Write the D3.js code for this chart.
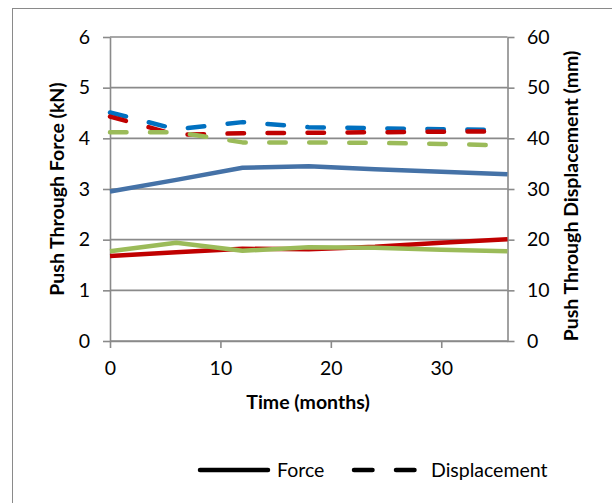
<!DOCTYPE html>
<html><head><meta charset="utf-8">
<script src="https://cdn.jsdelivr.net/npm/d3@7"></script>
<style>
html,body{margin:0;padding:0;background:#fff;}
svg{display:block;font-family:Lato,"Open Sans",sans-serif;}
</style></head>
<body>
<svg id="chart" width="612" height="503"></svg>
<script>
const months = [0, 6, 12, 18, 24, 30, 36];
const forceBlue  = [2.95, 3.18, 3.42, 3.45, 3.39, 3.34, 3.29];
const forceRed   = [1.68, 1.75, 1.82, 1.81, 1.86, 1.94, 2.01];
const forceGreen = [1.77, 1.94, 1.78, 1.85, 1.84, 1.80, 1.77];
const dispBlue   = [45.1, 41.8, 43.2, 42.2, 42.0, 41.8, 41.6];
const dispRed    = [44.3, 40.7, 41.0, 41.1, 41.2, 41.3, 41.4];
const dispGreen  = [41.2, 41.2, 39.2, 39.2, 39.1, 38.9, 38.6];
const leftTicks = [0, 1, 2, 3, 4, 5, 6];
const rightTicks = [0, 10, 20, 30, 40, 50, 60];
const xTicks = [0, 10, 20, 30];
const legendLabels = ["Force", "Displacement"];

const FS = "19.5px";
const svg = d3.select("#chart");
const L = 110, R = 507.5, T = 37, B = 341;
const x = d3.scaleLinear().domain([0, 36]).range([L, R]);
const yL = d3.scaleLinear().domain([0, 6]).range([B, T]);
const yR = d3.scaleLinear().domain([0, 60]).range([B, T]);
const grid = "#8a8a8a";

// outer border
svg.append("rect").attr("x", 12.5).attr("y", 8.5).attr("width", 700).attr("height", 600)
  .attr("fill", "none").attr("stroke", "#8a8a8a").attr("stroke-width", 1);

// gridlines
svg.append("g").selectAll("line").data(leftTicks).join("line")
  .attr("x1", L).attr("x2", R).attr("y1", d => yL(d)).attr("y2", d => yL(d))
  .attr("stroke", grid).attr("stroke-width", 1.6);

function styleAxis(g) {
  g.select(".domain").attr("stroke", grid).attr("stroke-width", 1.6);
  g.selectAll(".tick line").attr("stroke", grid).attr("stroke-width", 1.6);
  g.selectAll(".tick text").attr("fill", "#000").attr("font-size", FS)
    .attr("font-family", "Lato, 'Open Sans', sans-serif");
}
svg.append("g").attr("transform", `translate(${L},0)`)
  .call(d3.axisLeft(yL).tickValues(leftTicks).tickSize(7).tickSizeOuter(0).tickPadding(13).tickFormat(d3.format("d")))
  .call(styleAxis);
svg.append("g").attr("transform", `translate(${R},0)`)
  .call(d3.axisRight(yR).tickValues(rightTicks).tickSize(7).tickSizeOuter(0).tickPadding(12.5).tickFormat(d3.format("d")))
  .call(styleAxis);
svg.append("g").attr("transform", `translate(0,${B})`)
  .call(d3.axisBottom(x).tickValues(xTicks).tickSize(7).tickSizeOuter(0).tickPadding(13).tickFormat(d3.format("d")))
  .call(styleAxis);

const series = [
  {v: dispBlue,  s: yR, c: "#0070C0", dashed: true},
  {v: dispRed,   s: yR, c: "#C00000", dashed: true},
  {v: dispGreen, s: yR, c: "#9BBB59", dashed: true},
  {v: forceBlue,  s: yL, c: "#4572A7", dashed: false},
  {v: forceRed,   s: yL, c: "#C00000", dashed: false},
  {v: forceGreen, s: yL, c: "#9BBB59", dashed: false}
];
const DASH = 16.5, GAP = 23.5;
series.forEach(sr => {
  const line = d3.line().x((d, i) => x(months[i])).y(d => sr.s(d));
  const p = svg.append("path").datum(sr.v).attr("d", line)
    .attr("fill", "none").attr("stroke", sr.c).attr("stroke-width", 4.5)
    .attr("stroke-linecap", sr.dashed ? "round" : "butt").attr("stroke-linejoin", "round");
  if (sr.dashed) {
    const len = p.node().getTotalLength();
    const arr = [];
    let pos = 0;
    while (len - pos >= DASH) {
      arr.push(DASH, GAP);
      pos += DASH + GAP;
    }
    arr[arr.length - 1] = 3000;
    p.attr("stroke-dasharray", arr.join(","));
  }
});

// axis titles
svg.append("text").attr("x", 308).attr("y", 409).attr("text-anchor", "middle")
  .attr("font-size", FS).attr("font-weight", "bold").text("Time (months)");
svg.append("text").attr("transform", "translate(64,189) rotate(-90)").attr("text-anchor", "middle")
  .attr("font-size", FS).attr("font-weight", "bold").text("Push Through Force (kN)");
svg.append("text").attr("transform", "translate(578,196) rotate(-90)").attr("text-anchor", "middle")
  .attr("font-size", FS).attr("font-weight", "bold").text("Push Through Displacement (mm)");

// legend
const ly = 470;
svg.append("line").attr("x1", 200).attr("x2", 268).attr("y1", ly).attr("y2", ly)
  .attr("stroke", "#000").attr("stroke-width", 4.5).attr("stroke-linecap", "round");
svg.append("text").attr("x", 277).attr("y", ly + 7).attr("font-size", FS).text(legendLabels[0]);
svg.append("line").attr("x1", 354).attr("x2", 415).attr("y1", ly).attr("y2", ly)
  .attr("stroke", "#000").attr("stroke-width", 4.5).attr("stroke-linecap", "round")
  .attr("stroke-dasharray", "18.5,23.5");
svg.append("text").attr("x", 431).attr("y", ly + 7).attr("font-size", FS).text(legendLabels[1]);
</script>
</body></html>
